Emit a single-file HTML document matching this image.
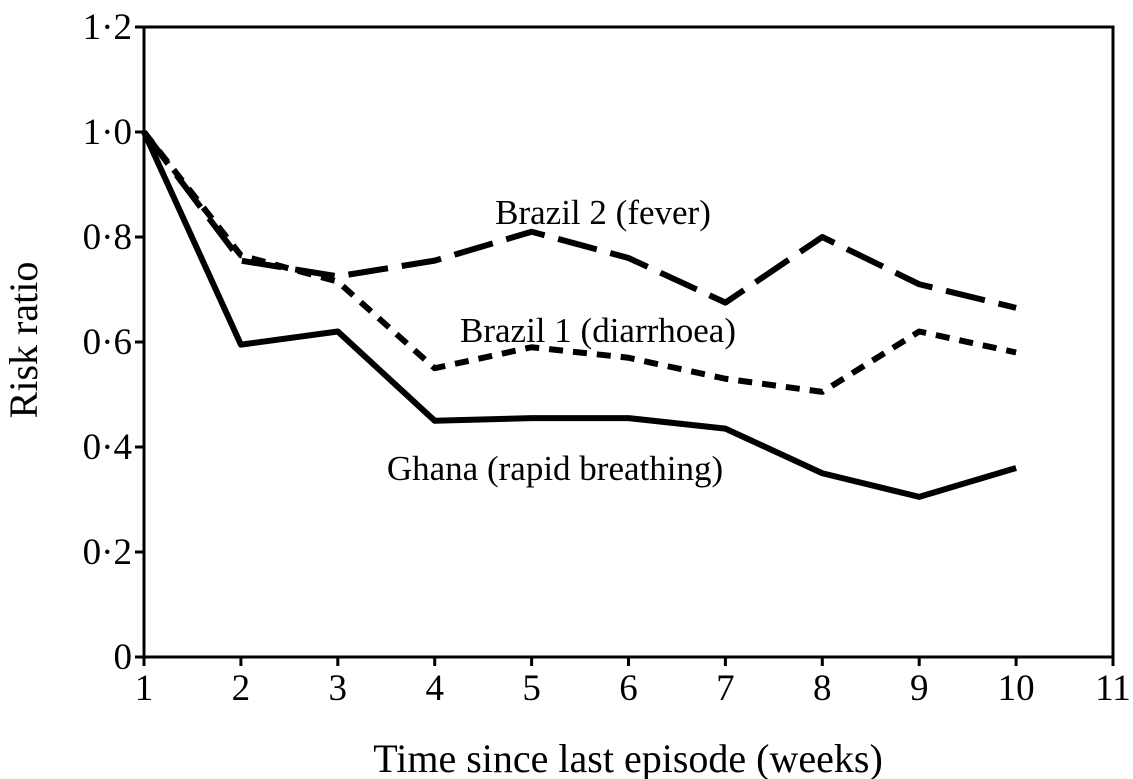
<!DOCTYPE html>
<html><head><meta charset="utf-8"><style>
body{margin:0;background:#fff}
svg{display:block;font-family:"Liberation Serif",serif}
</style></head><body>
<svg width="1133" height="779" id="c">
</svg>
<script>
const weeks=[1,2,3,4,5,6,7,8,9,10];
const ghana=[1.0,0.595,0.62,0.45,0.455,0.455,0.435,0.35,0.305,0.36];
const brazil1=[1.0,0.765,0.715,0.55,0.59,0.57,0.53,0.505,0.62,0.58];
const brazil2=[1.0,0.755,0.725,0.755,0.81,0.76,0.675,0.80,0.71,0.665];
const xTicks=[1,2,3,4,5,6,7,8,9,10,11];
const yTicks=[0,0.2,0.4,0.6,0.8,1.0,1.2];
const yTickLabels=["0","0·2","0·4","0·6","0·8","1·0","1·2"];
const X0=144,X1=1113,Y0=657,Y1=27;
const sx=v=>X0+(v-1)/10*(X1-X0);
const sy=v=>Y0-v/1.2*(Y0-Y1);
const svg=document.getElementById('c');const NS='http://www.w3.org/2000/svg';
function mk(t,a,txt){const e=document.createElementNS(NS,t);for(const k in a)e.setAttribute(k,a[k]);if(txt!=null)e.textContent=txt;svg.appendChild(e);return e;}
let f=mk('rect',{x:X0,y:Y1,width:X1-X0,height:Y0-Y1,fill:'none',stroke:'#000','stroke-width':3});


xTicks.forEach(v=>{
 let l=mk('line',{x1:sx(v),x2:sx(v),y1:Y0,y2:Y0+9,stroke:'#000','stroke-width':3});
 
 
 let t=mk('text',{x:sx(v),y:Y0+43,'text-anchor':'middle','font-size':37},String(v));
 
 
});
yTicks.forEach((v,i)=>{
 let l=mk('line',{x1:X0-9,x2:X0,y1:sy(v),y2:sy(v),stroke:'#000','stroke-width':3});
 
 
 let t=mk('text',{x:X0-12,y:sy(v)+12,'text-anchor':'end','font-size':37},yTickLabels[i]);
 
 
});
function line(d,dash,name){
 const pts=weeks.map((w,i)=>sx(w)+','+sy(d[i])).join(' ');
 const a={points:pts,fill:'none',stroke:'#000','stroke-width':6,'stroke-linejoin':'round'};
 if(dash)a['stroke-dasharray']=dash;
 let p=mk('polyline',a);
 
 
}
line(ghana,null,'ghana-line');
line(brazil1,'14 10','brazil1-line');
line(brazil2,'40 14','brazil2-line');
let l1=mk('text',{x:603,y:224,'text-anchor':'middle','font-size':35},'Brazil 2 (fever)');


let l2=mk('text',{x:598,y:342,'text-anchor':'middle','font-size':35},'Brazil 1 (diarrhoea)');


let l3=mk('text',{x:555,y:480,'text-anchor':'middle','font-size':35},'Ghana (rapid breathing)');


let xt=mk('text',{x:628,y:772,'text-anchor':'middle','font-size':40},'Time since last episode (weeks)');


let yt=mk('text',{x:0,y:0,'text-anchor':'middle','font-size':40,transform:'translate(37,340) rotate(-90)'},'Risk ratio');


</script>
</body></html>
